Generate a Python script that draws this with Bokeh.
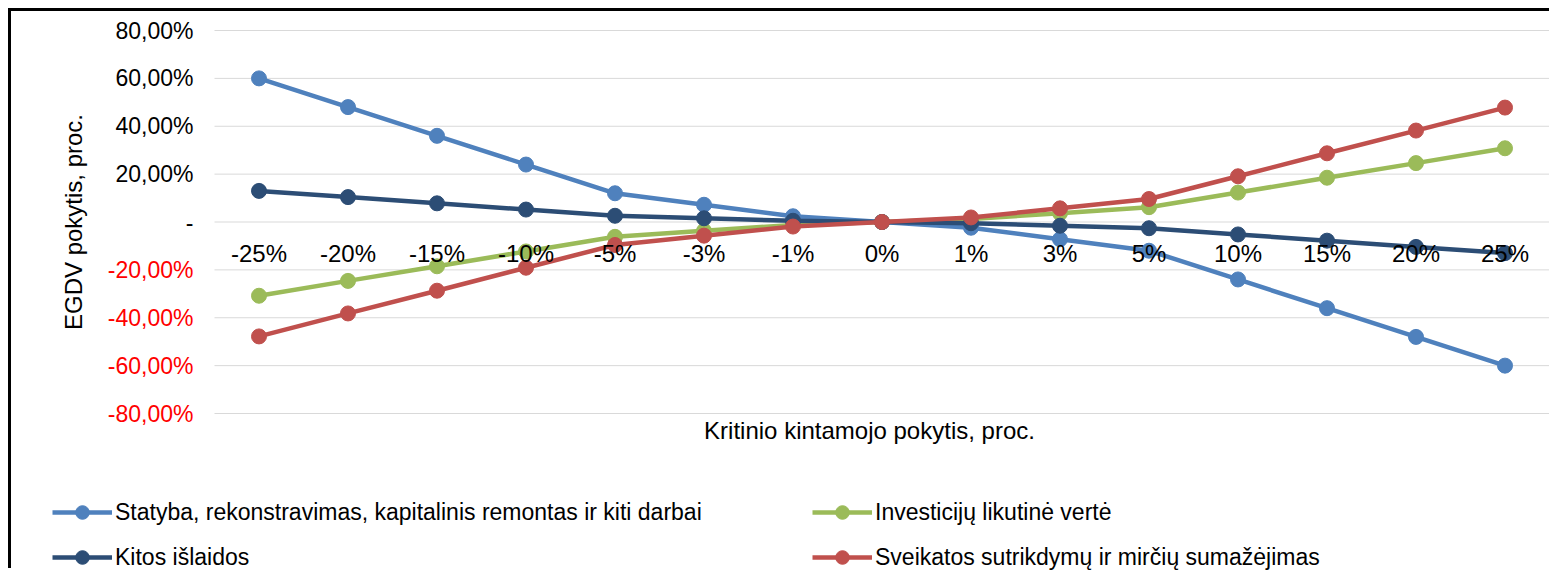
import math
from bokeh.plotting import figure
from bokeh.models import (ColumnDataSource, Range1d, LabelSet, Label,
                          Legend, LegendItem)
from bokeh.core.properties import value
from bokeh.embed import file_html
from bokeh.resources import INLINE

# ---- data ----
categories = ["-25%", "-20%", "-15%", "-10%", "-5%", "-3%", "-1%", "0%",
              "1%", "3%", "5%", "10%", "15%", "20%", "25%"]
statyba = [60.0, 48.0, 36.0, 24.0, 12.0, 7.2, 2.4, 0.0, -2.4, -7.2, -12.0, -24.0, -36.0, -48.0, -60.0]
investiciju = [-30.8, -24.6, -18.5, -12.3, -6.2, -3.7, -1.2, 0.0, 1.2, 3.7, 6.2, 12.3, 18.5, 24.6, 30.8]
kitos = [13.0, 10.4, 7.8, 5.2, 2.6, 1.56, 0.52, 0.0, -0.52, -1.56, -2.6, -5.2, -7.8, -10.4, -13.0]
sveikatos = [-47.8, -38.2, -28.7, -19.1, -9.6, -5.7, -1.9, 0.0, 1.9, 5.7, 9.6, 19.1, 28.7, 38.2, 47.8]

series_names = ["Statyba, rekonstravimas, kapitalinis remontas ir kiti darbai",
                "Investicijų likutinė vertė",
                "Kitos išlaidos",
                "Sveikatos sutrikdymų ir mirčių sumažėjimas"]
series_colors = ["#4F81BD", "#9BBB59", "#2C4D75", "#C0504D"]

y_ticks = [80, 60, 40, 20, 0, -20, -40, -60, -80]
y_tick_labels = ["80,00%", "60,00%", "40,00%", "20,00%", "-",
                 "-20,00%", "-40,00%", "-60,00%", "-80,00%"]
y_tick_colors = ["#000000"] * 5 + ["#FF0000"] * 4

x_title = "Kritinio kintamojo pokytis, proc."
y_title = "EGDV pokytis, proc."

FONT = "Liberation Sans"

# ---- layout (pixels on the canvas) ----
W, H = 1541, 560
PLOT_L, PLOT_R = 203, 1538      # plot area left/right on canvas
PLOT_T, PLOT_B = 19, 402        # plot area top/bottom on canvas
n = len(categories)
ymin, ymax = min(y_ticks), max(y_ticks)
xs_px = (PLOT_R - PLOT_L) / n
ys_px = (PLOT_B - PLOT_T) / (ymax - ymin)
x0 = -PLOT_L / xs_px
x1 = x0 + W / xs_px
y1 = ymax + PLOT_T / ys_px
y0 = y1 - H / ys_px

p = figure(width=W, height=H, output_backend="svg", toolbar_location=None,
           x_range=Range1d(x0, x1), y_range=Range1d(y0, y1))
p.styles = {"margin-left": "8px", "margin-top": "8px",
            "border-top": "3px solid black", "border-left": "3px solid black"}
p.min_border = 0
p.axis.visible = False
p.grid.visible = False
p.outline_line_color = None
p.background_fill_color = "white"
p.border_fill_color = "white"

# horizontal gridlines of the plot area
p.segment(x0=[0] * len(y_ticks), x1=[n] * len(y_ticks), y0=y_ticks, y1=y_ticks,
          line_color="#D9D9D9", line_width=1)

xs = [i + 0.5 for i in range(n)]
all_series = [statyba, investiciju, kitos, sveikatos]
items = []
for name, vals, col in zip(series_names, all_series, series_colors):
    src = ColumnDataSource(dict(x=xs, y=vals))
    l = p.line("x", "y", source=src, line_color=col, line_width=4.5)
    s = p.scatter("x", "y", source=src, size=15, fill_color=col, line_color=col)
    items.append(LegendItem(label=name, renderers=[l, s]))

# category labels next to the zero line
cat_src = ColumnDataSource(dict(x=xs, y=[0] * n, text=categories))
p.text("x", "y", text="text", source=cat_src, text_font=value(FONT),
       text_font_size="24px", text_align="center", text_baseline="top",
       y_offset=18, text_color="#000000")

# y tick labels
ytick_src = ColumnDataSource(dict(y=y_ticks, text=y_tick_labels, color=y_tick_colors))
p.add_layout(LabelSet(x=182, y="y", x_units="screen", text="text", source=ytick_src,
                      text_color="color", text_font=value(FONT), text_font_size="23px",
                      text_align="right", text_baseline="middle"))

# axis titles
p.add_layout(Label(x=62, y=0, x_units="screen", y_units="data", text=y_title,
                   angle=math.pi / 2, text_align="center", text_baseline="middle",
                   text_font=FONT, text_font_size="24px", text_color="#000000"))
p.add_layout(Label(x=858, y=H - 419, x_units="screen", y_units="screen", text=x_title,
                   text_align="center", text_baseline="middle",
                   text_font=FONT, text_font_size="24px", text_color="#000000"))

# legends (two columns)
def make_legend(its, loc):
    return Legend(items=its, location=loc, orientation="vertical",
                  glyph_width=60, glyph_height=34, label_standoff=3, spacing=11,
                  padding=0, margin=0, border_line_color=None,
                  background_fill_alpha=0, label_text_font=FONT,
                  label_text_font_size="23px", label_text_color="#000000")

p.add_layout(make_legend([items[0], items[2]], (41, -3)))
p.add_layout(make_legend([items[1], items[3]], (801, -3)))

open("out.html", "w").write(file_html(p, INLINE))
